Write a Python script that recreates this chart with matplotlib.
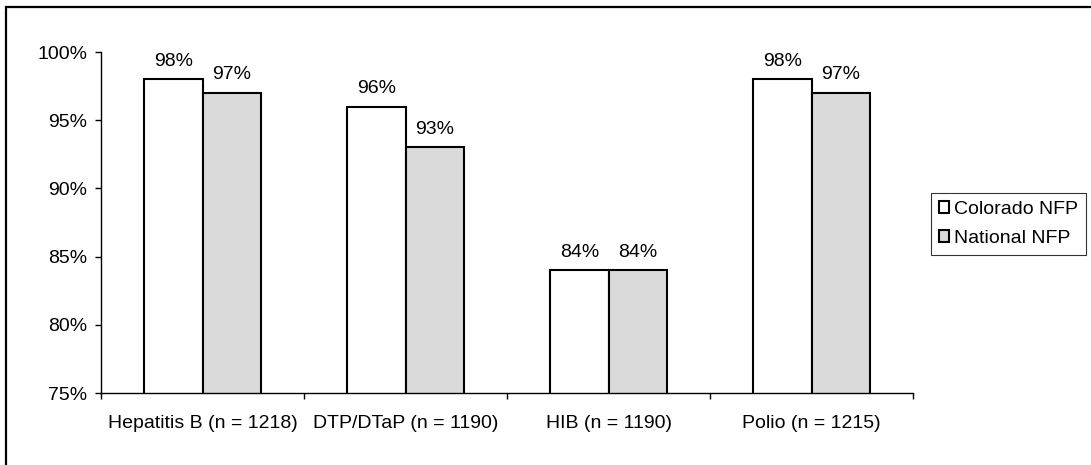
import numpy as np
import matplotlib.pyplot as plt
from matplotlib.patches import Rectangle
from matplotlib.ticker import FuncFormatter, MultipleLocator

plt.rcParams["font.family"] = ["Liberation Sans", "DejaVu Sans"]
plt.rcParams["font.size"] = 14

# ----------------------------
# Data
# ----------------------------
categories = ["Hepatitis B (n = 1218)", "DTP/DTaP (n = 1190)", "HIB (n = 1190)", "Polio (n = 1215)"]
colorado = [98, 96, 84, 98]
national = [97, 93, 84, 97]
series_names = ["Colorado NFP", "National NFP"]

W, H = 1091, 465
fig = plt.figure(figsize=(W / 100, H / 100), dpi=100)
ax = fig.add_axes([101 / W, 72 / H, 812 / W, 341 / H])

x = np.arange(len(categories))
bw = 0.286
b1 = ax.bar(x - bw / 2, colorado, width=bw, color="white", edgecolor="black", linewidth=1.5,
            label=series_names[0])
b2 = ax.bar(x + bw / 2, national, width=bw, color="#dadada", edgecolor="black", linewidth=1.5,
            label=series_names[1])

for bars, vals in [(b1, colorado), (b2, national)]:
    for r, v in zip(bars, vals):
        ax.text(r.get_x() + r.get_width() / 2, v + 0.7, f"{v}%", ha="center", va="bottom")

ax.set_ylim(75, 100)
ax.set_xlim(-0.5, len(categories) - 0.5)
ax.yaxis.set_major_locator(MultipleLocator(5))
ax.yaxis.set_major_formatter(FuncFormatter(lambda v, p: f"{v:.0f}%"))

ax.set_xticks(x)
ax.set_xticklabels(categories)
ax.set_xticks(np.arange(len(categories) + 1) - 0.5, minor=True)
ax.tick_params(axis="x", which="major", length=0, pad=16)
ax.tick_params(axis="x", which="minor", length=4, width=1)
ax.tick_params(axis="y", length=4, width=1, pad=6)

for s in ["top", "right"]:
    ax.spines[s].set_visible(False)
for s in ["left", "bottom"]:
    ax.spines[s].set_linewidth(1)

leg = fig.legend(loc="upper left", bbox_to_anchor=(931 / W, 1 - 193 / H), frameon=True, fancybox=False,
                 handlelength=0.55, handleheight=0.55, handletextpad=0.25,
                 borderpad=0.4, labelspacing=0.62, borderaxespad=0)
leg.get_frame().set_edgecolor("black")
leg.get_frame().set_linewidth(0.8)
for h in leg.legend_handles:
    h.set_linewidth(1.5)

# outer frame (only top and left edges fall inside the image)
fig.add_artist(Rectangle((6 / W, -0.1), 1.2, 1 - 6.5 / H + 0.1, transform=fig.transFigure,
                         fill=False, edgecolor="black", linewidth=1.6))

fig.savefig("out.png", dpi=100)
